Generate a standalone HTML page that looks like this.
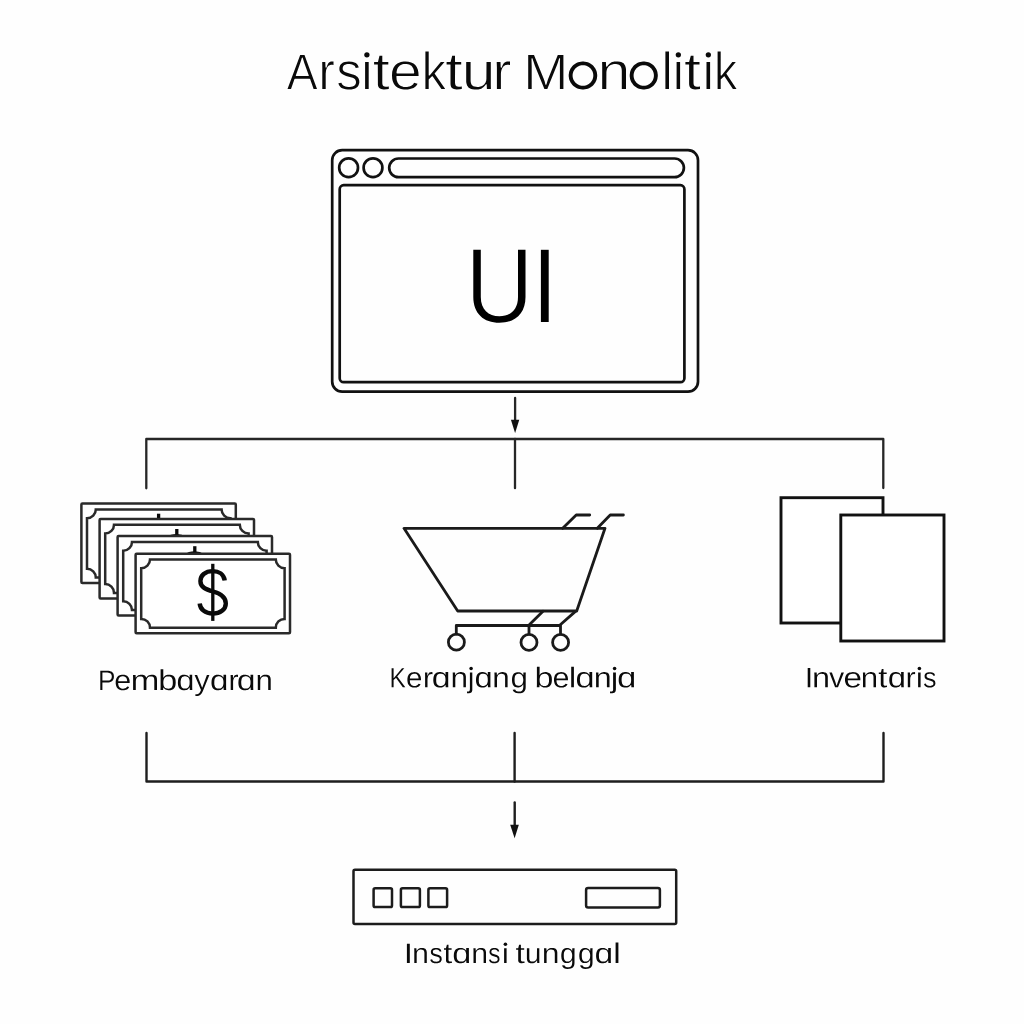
<!DOCTYPE html>
<html><head><meta charset="utf-8"><style>
html,body{margin:0;padding:0;background:#fefefe;width:1024px;height:1024px;overflow:hidden}
svg{display:block}
text{font-family:"Liberation Sans",sans-serif;fill:#111}
</style></head><body>
<svg width="1024" height="1024" viewBox="0 0 1024 1024">
<rect width="1024" height="1024" fill="#fefefe"/>
<defs><clipPath id="aclip"><rect x="-500" y="-500" width="3000" height="1600"/></clipPath></defs>
<!--TEXT-->
<path id="txt_title" fill="#0a0a0a" fill-rule="evenodd" d="M310.1,79.1 313.6,89.0 317.0,89.0 304.5,55.0 300.2,55.0 287.5,89.0 291.0,89.0 294.5,79.1 294.6,78.9 294.8,78.8 295.0,78.8 309.6,78.8 309.9,78.9ZM300.9,61.0 301.8,57.9 302.0,57.7 302.3,57.6 302.7,57.8 304.3,63.0 308.8,75.4 308.8,75.8 308.5,76.0 296.3,76.1 296.0,76.0 295.9,75.8 295.8,75.4 299.9,63.9ZM322.3,89.0 325.7,89.0 325.7,73.7 325.9,71.7 326.0,70.7 326.2,69.8 326.8,68.2 327.2,67.5 328.0,66.3 328.5,65.8 329.0,65.5 329.6,65.2 330.3,64.9 331.0,64.8 332.4,64.8 333.5,64.9 333.5,61.6 332.4,61.5 331.2,61.6 330.2,61.8 329.8,62.0 329.1,62.4 328.5,63.0 327.9,63.9 327.1,65.7 326.5,67.5 326.3,67.7 326.1,67.7 325.7,67.6 325.5,67.3 325.3,62.0 322.2,62.0 322.3,67.3ZM359.3,81.8 359.2,80.3 359.0,79.7 358.7,78.8 358.4,78.2 357.9,77.5 357.3,76.8 356.8,76.4 355.6,75.6 353.8,74.8 351.9,74.2 347.2,72.8 345.7,72.3 345.0,72.0 344.2,71.5 343.4,70.7 342.9,70.0 342.7,69.1 342.7,68.4 342.8,67.4 343.1,66.5 343.6,65.7 344.3,65.1 345.2,64.7 346.3,64.3 347.6,64.1 349.7,64.1 351.0,64.2 352.1,64.5 353.1,64.9 354.1,65.5 354.8,66.1 355.3,66.9 355.7,67.9 358.7,67.5 358.4,66.4 358.1,65.7 357.7,65.1 356.9,64.0 355.8,63.1 354.4,62.4 353.7,62.2 352.0,61.8 351.1,61.7 349.0,61.6 346.8,61.7 344.8,62.0 343.1,62.6 342.4,63.0 341.8,63.5 341.2,64.0 340.7,64.5 340.3,65.1 340.0,65.7 339.7,66.4 339.5,67.2 339.4,68.0 339.4,69.4 339.6,70.7 340.0,71.8 340.7,72.8 341.5,73.6 342.2,74.1 343.0,74.6 344.0,75.1 346.1,75.9 351.7,77.4 352.7,77.8 353.7,78.3 354.8,79.1 355.3,79.7 355.5,80.0 355.8,80.9 356.0,81.7 356.0,82.1 355.9,83.3 355.5,84.3 355.0,85.1 354.2,85.8 353.7,86.1 352.6,86.5 351.3,86.8 349.8,87.0 348.2,87.0 346.7,86.8 345.4,86.5 344.3,86.1 343.3,85.5 342.5,84.8 341.9,83.9 341.4,82.7 338.4,83.3 338.8,84.4 339.1,85.2 339.5,85.8 340.4,87.0 341.6,87.9 343.0,88.6 344.7,89.1 345.7,89.3 347.8,89.5 350.2,89.5 351.3,89.4 353.4,89.0 354.3,88.7 355.2,88.4 355.9,87.9 356.7,87.5 357.3,86.9 357.8,86.4 358.3,85.7 358.6,85.1 358.9,84.3 359.1,83.5 359.3,82.7ZM365.1,89.0 368.7,89.0 368.7,62.0 365.1,62.0ZM388.8,86.4 387.2,86.7 385.7,86.7 384.4,86.5 383.7,86.2 383.1,85.7 382.9,85.4 382.6,84.8 382.4,84.0 382.3,82.6 382.3,64.8 382.4,64.5 382.8,64.4 388.3,64.4 388.3,62.0 382.8,62.0 382.5,61.9 382.3,61.8 382.3,61.5 382.3,55.7 379.5,55.7 378.0,61.8 377.8,61.9 377.6,62.0 374.1,62.0 374.1,64.4 377.4,64.4 377.7,64.5 377.8,64.8 377.9,83.6 377.9,85.0 378.2,86.2 378.7,87.2 379.3,88.0 380.1,88.6 381.2,89.0 382.4,89.3 383.8,89.4 386.5,89.3 388.8,88.9ZM396.5,77.7 396.4,76.4 396.6,76.1 396.9,76.0 418.6,76.0 418.4,72.4 417.8,69.5 416.7,67.0 415.3,65.0 413.5,63.5 411.2,62.4 408.5,61.7 405.4,61.5 403.8,61.5 402.3,61.7 400.9,62.0 399.7,62.4 398.5,62.9 397.4,63.5 396.4,64.2 395.5,65.0 394.7,66.0 394.0,67.0 393.4,68.1 392.9,69.4 392.5,70.7 392.2,72.1 392.1,73.7 392.0,75.3 392.1,77.1 392.2,78.7 392.5,80.2 392.9,81.6 393.4,82.8 394.0,84.0 394.7,85.0 395.5,86.0 396.4,86.8 397.4,87.5 398.5,88.1 399.7,88.6 401.0,89.0 402.4,89.3 404.0,89.5 405.6,89.5 407.9,89.4 410.0,89.1 411.8,88.6 413.5,87.9 414.9,87.0 416.1,86.0 417.0,84.7 417.5,83.7 414.0,82.8 413.4,83.9 412.7,84.7 412.2,85.1 411.3,85.7 410.7,86.0 409.4,86.5 408.0,86.8 407.2,86.9 405.6,87.0 404.6,87.0 403.5,86.9 402.5,86.6 401.7,86.3 400.9,86.0 400.1,85.5 399.4,84.9 398.7,84.2 398.2,83.5 397.7,82.7 397.3,81.8 397.0,80.9 396.7,79.9ZM414.1,71.8 414.2,73.0 414.0,73.3 413.8,73.4 397.0,73.4 396.7,73.3 396.6,73.2 396.5,73.0 396.6,71.9 396.7,71.0 397.2,69.2 397.5,68.4 397.9,67.7 398.4,67.0 399.0,66.4 399.6,65.8 400.3,65.3 401.0,64.9 401.8,64.5 402.6,64.3 403.5,64.1 404.4,64.0 406.3,64.0 408.1,64.2 408.9,64.5 409.7,64.8 410.4,65.2 411.0,65.6 411.6,66.1 412.2,66.7 412.6,67.4 413.0,68.1 413.7,69.8ZM441.4,89.0 445.2,89.0 434.7,73.8 434.6,73.5 434.8,73.2 444.5,62.0 440.8,62.0 429.6,75.4 429.4,75.5 429.2,75.6 429.0,75.5 428.8,75.4 428.7,75.1 428.7,51.6 425.4,51.6 425.4,89.0 428.7,89.0 428.7,79.4 428.9,79.2 432.0,76.3 432.4,76.2 432.7,76.3 432.8,76.4ZM461.8,86.4 460.1,86.7 458.6,86.7 457.3,86.5 456.5,86.2 456.0,85.7 455.7,85.4 455.4,84.8 455.2,84.0 455.0,82.6 455.1,64.8 455.2,64.5 455.5,64.4 461.2,64.4 461.2,62.0 455.5,62.0 455.3,61.9 455.1,61.8 455.0,61.5 455.0,55.7 452.2,55.7 450.7,61.6 450.5,61.9 450.2,62.0 446.6,62.0 446.6,64.4 450.1,64.4 450.3,64.5 450.5,64.8 450.5,83.6 450.6,85.0 450.9,86.2 451.3,87.2 452.0,88.0 452.8,88.6 453.9,89.0 455.2,89.3 456.7,89.4 459.5,89.3 461.8,88.9ZM470.6,62.0 466.2,62.0 466.2,81.4 466.3,82.5 466.5,83.6 466.8,84.5 467.1,85.4 467.5,86.1 468.0,86.8 468.5,87.4 469.1,87.9 469.8,88.3 470.6,88.7 471.4,89.0 472.4,89.2 474.6,89.5 475.9,89.5 478.3,89.4 479.1,89.2 480.4,88.9 481.7,88.4 482.2,88.1 483.3,87.3 483.8,86.8 484.8,85.7 485.8,84.4 485.9,84.3 486.2,84.2 486.5,84.3 486.7,84.6 486.9,89.0 490.9,89.0 490.8,84.7 490.8,62.0 486.5,62.0 486.4,78.7 486.3,79.7 486.2,80.7 485.9,81.6 485.6,82.4 485.2,83.1 484.7,83.8 484.1,84.4 483.5,85.1 482.8,85.6 482.1,86.0 481.3,86.3 480.4,86.6 478.7,86.9 477.7,86.9 475.8,86.8 474.8,86.6 473.9,86.4 473.1,86.0 472.4,85.5 471.8,84.9 471.2,83.8 470.9,82.8 470.7,81.8 470.6,79.9ZM496.9,89.0 500.9,89.0 500.9,73.7 501.1,71.7 501.3,70.7 501.6,69.8 502.2,68.2 502.6,67.5 503.1,66.9 503.6,66.3 504.2,65.8 504.9,65.4 505.5,65.1 506.3,64.9 507.0,64.8 508.6,64.8 510.0,64.9 510.0,61.6 508.7,61.5 507.2,61.6 506.1,61.8 505.6,62.0 504.7,62.4 504.0,63.0 503.3,63.9 502.7,65.1 502.4,65.8 501.7,67.5 501.5,67.7 501.3,67.7 500.9,67.6 500.7,67.3 500.5,62.0 496.7,62.0 496.9,67.3ZM559.9,89.0 563.4,89.0 563.4,55.0 557.8,55.0 548.0,79.3 547.0,82.4 546.4,84.5 546.2,84.8 545.9,84.8 545.6,84.8 545.4,84.5 544.7,81.6 543.8,78.9 534.0,55.0 528.2,55.0 528.2,89.0 531.7,89.0 531.7,66.2 531.5,58.7 531.6,58.4 532.0,58.2 532.3,58.3 532.5,58.5 533.4,61.3 534.8,65.5 544.4,89.0 547.3,89.0 557.1,64.8 557.9,62.5 559.1,58.5 559.4,58.3 559.5,58.2 559.8,58.3 560.0,58.4 560.1,58.7 559.9,61.4 559.9,65.2ZM597.2,74.8 597.0,73.4 596.8,72.1 596.4,70.8 595.8,69.5 595.2,68.3 594.4,67.2 593.5,66.1 592.5,65.1 591.4,64.3 590.3,63.5 589.0,62.8 587.8,62.3 586.4,61.9 585.0,61.7 583.6,61.5 582.3,61.5 580.9,61.7 579.5,61.9 578.1,62.3 576.9,62.8 575.6,63.5 574.5,64.3 573.4,65.1 572.4,66.1 571.5,67.2 570.7,68.3 570.1,69.5 569.5,70.8 569.1,72.1 568.9,73.4 568.7,74.8 568.7,76.2 568.9,77.6 569.1,78.9 569.5,80.2 570.1,81.5 570.7,82.7 571.5,83.8 572.4,84.9 573.4,85.9 574.5,86.7 575.6,87.5 576.9,88.2 578.1,88.7 579.5,89.1 580.9,89.3 582.3,89.5 583.6,89.5 585.0,89.3 586.4,89.1 587.8,88.7 589.0,88.2 590.3,87.5 591.4,86.7 592.5,85.9 593.5,84.9 594.4,83.8 595.2,82.7 595.8,81.5 596.4,80.2 596.8,78.9 597.0,77.6 597.2,76.2ZM593.3,76.0 593.2,77.0 593.0,78.0 592.7,79.0 592.3,79.9 591.8,80.8 591.3,81.6 590.6,82.4 589.9,83.1 589.1,83.8 588.3,84.3 587.4,84.8 586.4,85.2 585.5,85.5 584.5,85.7 583.5,85.8 582.4,85.8 581.4,85.7 580.4,85.5 579.5,85.2 578.5,84.8 577.6,84.3 576.8,83.8 576.0,83.1 575.3,82.4 574.6,81.6 574.1,80.8 573.6,79.9 573.2,79.0 572.9,78.0 572.7,77.0 572.6,76.0 572.6,75.0 572.7,74.0 572.9,73.0 573.2,72.0 573.6,71.1 574.1,70.2 574.6,69.4 575.3,68.6 576.0,67.9 576.8,67.2 577.6,66.7 578.5,66.2 579.5,65.8 580.4,65.5 581.4,65.3 582.4,65.2 583.5,65.2 584.5,65.3 585.5,65.5 586.4,65.8 587.4,66.2 588.3,66.7 589.1,67.2 589.9,67.9 590.6,68.6 591.3,69.4 591.8,70.2 592.3,71.1 592.7,72.0 593.0,73.0 593.2,74.0 593.3,75.0ZM602.1,62.0 602.2,66.3 602.2,89.0 606.3,89.0 606.4,72.3 606.5,71.3 606.7,70.3 606.9,69.4 607.2,68.6 607.6,67.9 608.1,67.2 608.6,66.6 609.3,65.9 609.9,65.4 610.6,65.0 611.4,64.7 612.2,64.4 613.9,64.1 614.9,64.1 616.1,64.1 617.2,64.3 618.2,64.5 619.0,64.8 619.7,65.2 620.0,65.5 620.6,66.2 621.0,66.9 621.3,67.7 621.6,68.7 621.7,69.8 621.8,71.1 621.8,89.0 626.0,89.0 626.0,69.6 625.9,68.5 625.7,67.4 625.4,66.5 625.1,65.6 624.7,64.9 624.3,64.2 623.8,63.6 623.2,63.1 622.5,62.7 621.8,62.3 620.9,62.0 620.0,61.8 617.8,61.5 616.6,61.5 614.3,61.6 613.6,61.8 612.2,62.1 611.1,62.6 610.5,62.9 609.5,63.7 608.5,64.7 608.0,65.3 607.1,66.6 606.8,66.8 606.5,66.8 606.3,66.6 606.1,66.3 605.9,62.0ZM657.8,74.8 657.6,73.4 657.4,72.1 657.0,70.8 656.5,69.5 655.8,68.3 655.0,67.2 654.2,66.1 653.2,65.1 652.1,64.3 651.0,63.5 649.8,62.8 648.5,62.3 647.2,61.9 645.8,61.7 644.4,61.5 643.1,61.5 641.7,61.7 640.3,61.9 639.0,62.3 637.7,62.8 636.5,63.5 635.4,64.3 634.3,65.1 633.3,66.1 632.5,67.2 631.7,68.3 631.0,69.5 630.5,70.8 630.1,72.1 629.9,73.4 629.7,74.8 629.7,76.2 629.9,77.6 630.1,78.9 630.5,80.2 631.0,81.5 631.7,82.7 632.5,83.8 633.3,84.9 634.3,85.9 635.4,86.7 636.5,87.5 637.7,88.2 639.0,88.7 640.3,89.1 641.7,89.3 643.1,89.5 644.4,89.5 645.8,89.3 647.2,89.1 648.5,88.7 649.8,88.2 651.0,87.5 652.1,86.7 653.2,85.9 654.2,84.9 655.0,83.8 655.8,82.7 656.5,81.5 657.0,80.2 657.4,78.9 657.6,77.6 657.8,76.2ZM653.9,76.0 653.8,77.0 653.6,78.0 653.3,79.0 652.9,79.9 652.5,80.8 651.9,81.6 651.3,82.4 650.6,83.1 649.8,83.8 649.0,84.3 648.1,84.8 647.2,85.2 646.2,85.5 645.2,85.7 644.2,85.8 643.3,85.8 642.3,85.7 641.3,85.5 640.3,85.2 639.4,84.8 638.5,84.3 637.7,83.8 636.9,83.1 636.2,82.4 635.6,81.6 635.0,80.8 634.6,79.9 634.2,79.0 633.9,78.0 633.7,77.0 633.6,76.0 633.6,75.0 633.7,74.0 633.9,73.0 634.2,72.0 634.6,71.1 635.0,70.2 635.6,69.4 636.2,68.6 636.9,67.9 637.7,67.2 638.5,66.7 639.4,66.2 640.3,65.8 641.3,65.5 642.3,65.3 643.3,65.2 644.2,65.2 645.2,65.3 646.2,65.5 647.2,65.8 648.1,66.2 649.0,66.7 649.8,67.2 650.6,67.9 651.3,68.6 651.9,69.4 652.5,70.2 652.9,71.1 653.3,72.0 653.6,73.0 653.8,74.0 653.9,75.0ZM665.4,89.0 669.0,89.0 669.0,51.6 665.4,51.6ZM676.6,89.0 680.1,89.0 680.1,62.0 676.6,62.0ZM700.0,86.4 698.4,86.7 696.9,86.7 695.7,86.5 694.9,86.2 694.4,85.7 694.1,85.4 693.8,84.8 693.6,84.0 693.5,82.6 693.5,64.8 693.7,64.5 694.0,64.4 699.5,64.4 699.5,62.0 694.0,62.0 693.7,61.9 693.5,61.7 693.5,61.5 693.5,55.7 690.8,55.7 689.2,61.8 689.0,62.0 688.8,62.0 685.4,62.0 685.4,64.4 688.7,64.4 689.0,64.5 689.1,64.8 689.1,83.6 689.2,85.0 689.5,86.2 690.0,87.2 690.6,88.0 691.4,88.6 692.4,89.0 693.6,89.3 695.1,89.4 697.8,89.3 700.0,88.9ZM706.5,89.0 710.1,89.0 710.1,62.0 706.5,62.0ZM732.9,89.0 736.5,89.0 726.4,73.8 726.4,73.5 726.5,73.2 735.8,62.0 732.3,62.0 721.6,75.4 721.4,75.6 721.0,75.5 720.8,75.4 720.7,75.1 720.7,51.6 717.6,51.6 717.6,89.0 720.7,89.0 720.7,79.4 720.9,79.2 723.9,76.4 724.2,76.2 724.4,76.3 724.6,76.4Z"/>
<circle cx="366.90" cy="54.85" r="2.65" fill="#0a0a0a"/>
<circle cx="678.35" cy="54.85" r="2.65" fill="#0a0a0a"/>
<circle cx="708.35" cy="54.85" r="2.65" fill="#0a0a0a"/>
<path id="txt_pay" fill="#0a0a0a" fill-rule="evenodd" d="M113.9,677.2 113.9,675.9 113.8,675.2 113.7,674.6 113.3,673.6 113.0,673.1 112.3,672.3 111.4,671.6 110.9,671.4 109.8,671.0 108.4,670.8 100.3,670.8 100.3,690.0 102.4,690.0 102.4,682.6 102.5,682.4 102.6,682.4 108.5,682.4 109.8,682.2 110.9,681.8 111.9,681.2 112.7,680.4 113.0,679.9 113.5,678.9 113.7,678.4ZM111.7,675.6 111.8,676.6 111.7,677.5 111.5,678.3 111.2,679.0 110.7,679.6 110.1,680.0 109.3,680.4 108.5,680.6 107.5,680.6 102.6,680.6 102.4,680.5 102.4,672.8 102.5,672.6 107.4,672.6 108.4,672.7 109.3,672.9 110.0,673.2 110.6,673.6 111.1,674.1 111.5,674.9ZM118.2,683.7 118.2,683.0 118.4,682.9 129.7,682.9 129.6,680.8 129.3,679.2 128.7,677.8 128.0,676.7 127.0,675.8 125.8,675.2 124.4,674.8 122.7,674.7 121.9,674.7 120.4,675.0 119.7,675.2 118.5,675.8 117.5,676.7 117.1,677.2 116.4,678.4 116.2,679.1 115.8,680.6 115.7,681.5 115.7,683.4 115.8,684.3 116.2,685.9 116.7,687.2 117.1,687.8 117.5,688.3 118.0,688.8 119.1,689.5 119.8,689.8 121.2,690.2 122.0,690.3 122.9,690.3 124.1,690.2 125.2,690.1 126.1,689.8 127.0,689.4 127.7,688.9 128.4,688.3 128.9,687.6 129.2,686.9 127.2,686.4 126.8,687.0 126.4,687.4 125.7,688.0 125.1,688.3 124.1,688.6 123.3,688.7 122.3,688.7 121.3,688.5 120.9,688.3 120.1,687.8 119.7,687.5 119.1,686.8 118.9,686.4 118.5,685.4 118.4,684.9ZM126.9,679.4 127.2,681.1 127.2,681.2 127.1,681.2 118.4,681.2 118.2,681.1 118.4,680.0 118.6,679.1 119.0,678.3 119.5,677.6 120.1,677.0 120.5,676.8 121.3,676.5 122.2,676.3 123.2,676.3 124.1,676.5 124.9,676.8 125.6,677.2 126.2,677.8 126.6,678.5ZM135.6,675.0 133.0,675.0 133.1,677.5 133.1,690.0 135.8,690.0 135.8,681.3 135.9,680.2 136.1,679.2 136.3,678.8 136.7,678.0 137.0,677.7 137.6,677.1 138.0,676.9 138.8,676.6 139.3,676.5 140.2,676.4 141.5,676.5 142.2,676.7 142.5,676.9 142.9,677.3 143.1,677.5 143.3,677.8 143.5,678.5 143.7,679.4 143.7,680.4 143.7,690.0 146.4,690.0 146.4,681.3 146.5,680.2 146.7,679.2 147.1,678.4 147.3,678.0 147.9,677.4 148.2,677.1 148.9,676.7 149.4,676.6 150.3,676.4 150.8,676.4 152.1,676.5 152.8,676.7 153.1,676.9 153.5,677.3 153.7,677.5 153.9,677.8 154.1,678.5 154.2,679.4 154.3,680.4 154.3,690.0 157.0,690.0 157.0,680.0 156.9,678.6 156.8,678.1 156.5,677.1 156.1,676.3 155.5,675.7 154.7,675.2 154.2,675.0 153.1,674.8 151.4,674.7 150.1,674.9 149.0,675.2 148.0,675.8 147.2,676.5 146.4,677.6 146.2,677.6 146.1,677.5 145.8,676.8 145.3,676.0 144.8,675.6 144.2,675.2 143.5,675.0 142.7,674.8 141.8,674.7 140.4,674.8 139.6,674.9 138.9,675.1 137.9,675.5 137.1,676.2 136.5,676.8 136.0,677.6 135.9,677.6 135.8,677.6 135.7,677.5ZM163.1,690.0 163.3,687.7 163.4,687.6 163.6,687.7 164.3,688.6 165.1,689.3 166.1,689.8 167.3,690.1 168.2,690.2 169.1,690.3 170.7,690.2 172.0,689.8 173.1,689.2 174.1,688.3 174.8,687.2 175.3,685.9 175.6,684.3 175.7,682.4 175.6,680.6 175.5,679.8 175.1,678.3 174.8,677.7 174.1,676.6 173.7,676.2 173.2,675.8 172.7,675.5 171.4,675.0 170.0,674.7 169.2,674.7 167.7,674.8 166.5,675.1 165.4,675.5 164.8,675.9 164.1,676.7 163.6,677.4 163.3,677.4 163.3,677.3 163.3,675.4 163.3,669.3 160.6,669.3 160.6,687.6 160.5,690.0ZM172.8,681.7 172.8,684.0 172.6,685.3 172.4,685.9 172.0,686.8 171.8,687.2 171.2,687.9 170.8,688.1 169.9,688.5 169.4,688.6 168.3,688.7 167.1,688.6 166.1,688.3 165.2,687.9 164.8,687.6 164.2,686.8 163.8,685.9 163.6,685.3 163.4,684.1 163.3,681.9 163.5,680.5 163.8,679.3 164.3,678.3 164.9,677.6 165.6,677.0 166.6,676.6 167.2,676.5 168.4,676.4 168.9,676.4 169.9,676.6 170.8,676.9 171.5,677.5 171.8,677.8 172.2,678.7 172.6,679.7ZM188.9,688.3 189.4,687.6 189.5,687.5 189.7,687.6 189.8,690.0 192.3,690.0 192.2,687.6 192.2,674.7 189.6,674.7 189.7,677.2 189.6,677.3 189.5,677.4 189.4,677.3 188.7,676.4 187.9,675.7 187.0,675.2 185.9,674.9 184.9,674.7 183.8,674.7 182.6,674.8 181.4,675.2 180.3,675.8 179.5,676.7 178.8,677.8 178.3,679.1 178.0,680.7 177.9,682.6 177.9,683.5 178.1,685.2 178.5,686.7 179.1,687.9 179.8,688.8 180.8,689.5 181.9,690.0 183.3,690.3 185.0,690.2 185.9,690.1 186.6,689.9 187.3,689.7 187.9,689.3 188.4,688.8ZM180.7,684.0 180.6,681.7 180.9,679.7 181.2,678.6 181.4,678.2 181.9,677.4 182.2,677.1 182.9,676.7 183.8,676.4 184.3,676.3 185.5,676.3 186.5,676.5 187.4,676.9 187.8,677.1 188.5,677.8 189.0,678.6 189.4,679.7 189.6,680.9 189.6,683.1 189.5,684.5 189.4,685.1 189.0,686.2 188.5,687.0 187.8,687.7 187.0,688.2 186.5,688.4 185.4,688.6 184.3,688.6 183.4,688.4 182.9,688.3 182.2,687.8 181.9,687.5 181.4,686.8 181.0,685.8ZM195.4,694.3 195.4,695.9 196.6,696.0 197.8,696.0 198.7,695.8 199.7,695.3 200.7,694.5 201.4,693.7 202.3,692.2 203.0,690.7 209.4,675.0 206.9,675.0 203.4,684.6 202.3,687.4 202.2,687.5 202.0,687.4 200.5,683.4 197.1,675.0 194.6,675.0 201.0,690.1 200.3,691.6 199.9,692.3 199.4,692.9 198.9,693.4 198.4,693.8 197.8,694.1 197.2,694.3 196.5,694.3ZM222.8,688.3 223.2,687.6 223.3,687.5 223.5,687.6 223.7,690.0 226.2,690.0 226.1,687.6 226.1,674.7 223.5,674.7 223.5,677.2 223.5,677.3 223.4,677.4 223.2,677.3 222.5,676.4 221.7,675.7 220.8,675.2 219.6,674.9 218.6,674.7 217.5,674.7 216.3,674.8 215.1,675.2 214.0,675.8 213.1,676.7 212.4,677.8 211.9,679.1 211.6,680.7 211.5,682.6 211.5,683.5 211.7,685.2 212.1,686.7 212.7,687.9 213.4,688.8 214.4,689.5 215.6,690.0 217.0,690.3 218.8,690.2 219.6,690.1 220.4,689.9 221.1,689.7 221.7,689.3 222.3,688.8ZM214.3,684.0 214.3,681.7 214.5,679.7 214.8,678.6 215.1,678.2 215.6,677.4 215.9,677.1 216.7,676.7 217.5,676.4 218.1,676.3 219.2,676.3 220.3,676.5 221.2,676.9 222.0,677.4 222.3,677.8 222.8,678.6 223.2,679.7 223.4,680.9 223.5,683.1 223.3,684.5 223.2,685.1 222.8,686.2 222.3,687.1 221.6,687.7 220.8,688.2 220.3,688.4 219.2,688.6 218.0,688.6 217.1,688.4 216.6,688.3 215.9,687.8 215.6,687.5 215.0,686.8 214.7,685.8 214.4,684.7ZM230.7,690.0 233.1,690.0 233.1,681.5 233.3,679.9 233.8,678.6 234.0,678.2 234.5,677.6 234.8,677.3 235.5,677.0 235.9,676.8 236.7,676.8 238.0,676.9 238.0,674.8 237.2,674.7 236.3,674.8 235.7,674.9 235.0,675.2 234.6,675.6 234.2,676.1 233.7,677.1 233.3,678.1 233.2,678.1 233.0,678.1 233.0,678.0 232.9,675.0 230.6,675.0 230.7,678.0ZM249.8,688.3 250.3,687.6 250.4,687.5 250.6,687.6 250.7,690.0 253.3,690.0 253.2,687.6 253.2,674.7 250.5,674.7 250.6,677.2 250.5,677.3 250.4,677.4 250.3,677.3 249.6,676.4 248.8,675.7 247.8,675.2 246.7,674.9 245.6,674.7 244.5,674.7 243.3,674.8 242.0,675.2 240.9,675.8 240.0,676.7 239.3,677.8 238.8,679.1 238.5,680.7 238.4,682.6 238.4,683.5 238.6,685.2 239.0,686.7 239.6,687.9 240.4,688.8 241.4,689.5 242.6,690.0 244.0,690.3 245.8,690.2 246.6,690.1 247.4,689.9 248.1,689.7 248.8,689.3 249.3,688.8ZM241.3,684.0 241.2,681.7 241.5,679.7 241.8,678.6 242.0,678.2 242.5,677.4 242.9,677.1 243.6,676.7 244.5,676.4 245.1,676.3 246.2,676.3 247.3,676.5 248.3,676.9 249.0,677.4 249.4,677.8 249.9,678.6 250.2,679.7 250.5,680.9 250.5,683.1 250.4,684.5 250.2,685.1 249.9,686.2 249.4,687.1 248.7,687.7 247.8,688.2 247.3,688.4 246.2,688.6 245.0,688.6 244.0,688.4 243.6,688.3 242.8,687.8 242.5,687.5 242.0,686.8 241.6,685.8 241.4,684.7ZM260.0,675.0 257.7,675.0 257.8,677.5 257.8,690.0 260.2,690.0 260.3,680.7 260.4,679.7 260.7,678.8 260.9,678.4 261.4,677.7 262.1,677.1 262.4,676.9 263.3,676.6 264.2,676.4 264.7,676.4 265.9,676.5 266.8,676.8 267.3,677.1 267.8,677.8 268.1,678.8 268.2,680.1 268.2,690.0 270.7,690.0 270.7,679.3 270.6,678.6 270.4,677.5 270.2,677.0 269.8,676.2 269.2,675.6 268.4,675.2 267.9,675.0 266.9,674.8 266.3,674.7 265.2,674.7 264.3,674.8 263.2,675.1 262.3,675.5 261.4,676.2 260.9,676.8 260.4,677.6 260.2,677.6 260.1,677.5Z"/>
<path id="txt_cart" fill="#0a0a0a" fill-rule="evenodd" d="M402.8,687.3 405.3,687.3 397.3,676.6 397.2,676.5 404.3,668.3 402.0,668.3 393.9,677.9 393.8,678.0 393.6,677.9 393.6,677.8 393.6,668.3 391.6,668.3 391.6,687.3 393.6,687.3 393.6,680.0 395.9,678.0 396.1,678.0ZM409.9,681.0 409.8,680.4 410.0,680.2 421.0,680.2 420.9,678.2 420.6,676.6 420.0,675.2 419.3,674.1 418.4,673.2 417.2,672.6 415.8,672.2 414.2,672.1 413.4,672.2 412.0,672.4 411.3,672.6 410.2,673.2 409.2,674.1 408.8,674.6 408.1,675.8 407.8,676.5 407.5,678.0 407.4,678.8 407.4,680.7 407.5,681.6 407.8,683.2 408.4,684.5 408.8,685.1 409.6,686.1 410.7,686.8 411.3,687.1 412.7,687.5 413.5,687.5 414.4,687.6 415.5,687.5 416.6,687.4 417.5,687.1 418.4,686.7 419.1,686.2 419.7,685.6 420.2,684.9 420.5,684.2 418.5,683.7 418.2,684.3 417.8,684.7 417.1,685.3 416.6,685.6 415.6,685.9 414.8,686.0 413.8,686.0 412.9,685.8 412.4,685.6 411.6,685.2 411.3,684.8 410.7,684.1 410.5,683.7 410.1,682.7 410.0,682.2ZM418.3,676.8 418.6,678.5 418.6,678.6 418.5,678.6 410.0,678.6 409.9,678.5 410.0,677.4 410.2,676.5 410.6,675.7 411.1,675.0 411.7,674.4 412.1,674.2 412.9,673.9 413.7,673.7 414.7,673.7 415.6,673.8 416.4,674.1 417.0,674.6 417.6,675.2 418.0,675.9ZM425.1,687.3 427.5,687.3 427.5,678.9 427.7,677.8 427.9,676.8 428.2,675.9 428.7,675.2 429.0,674.9 429.6,674.5 430.0,674.3 430.8,674.2 431.6,674.1 432.5,674.2 432.5,672.2 431.7,672.1 430.8,672.2 430.2,672.3 429.4,672.6 429.0,673.0 428.6,673.5 428.1,674.5 427.8,675.4 427.6,675.5 427.5,675.5 427.4,675.4 427.3,672.4 425.0,672.4 425.1,675.4ZM444.8,685.6 445.3,684.9 445.4,684.9 445.5,684.9 445.7,687.3 448.3,687.3 448.2,684.9 448.2,672.1 445.5,672.1 445.5,674.6 445.5,674.7 445.4,674.8 445.3,674.7 444.6,673.8 443.7,673.1 442.8,672.6 441.6,672.3 440.6,672.1 439.4,672.1 438.2,672.2 436.9,672.6 435.8,673.2 434.9,674.1 434.2,675.1 433.7,676.5 433.4,678.1 433.3,679.9 433.3,680.9 433.5,682.6 433.9,684.0 434.5,685.2 435.3,686.1 436.3,686.8 437.5,687.3 439.0,687.6 440.7,687.5 441.6,687.4 442.4,687.2 443.1,687.0 443.7,686.6 444.3,686.2ZM436.2,681.3 436.2,679.1 436.4,677.1 436.7,676.0 436.9,675.6 437.4,674.8 437.8,674.5 438.6,674.0 439.5,673.8 440.0,673.7 441.2,673.7 442.3,673.9 443.2,674.2 444.0,674.8 444.3,675.2 444.9,676.0 445.2,677.0 445.4,678.2 445.5,680.4 445.3,681.8 445.2,682.4 444.9,683.5 444.3,684.4 443.7,685.1 442.8,685.5 442.3,685.7 441.2,685.9 440.0,685.9 439.0,685.7 438.5,685.6 437.8,685.1 437.5,684.8 436.9,684.1 436.5,683.2 436.3,682.0ZM455.1,672.4 452.7,672.4 452.8,674.9 452.8,687.3 455.3,687.3 455.3,678.1 455.5,677.1 455.8,676.2 456.0,675.8 456.5,675.1 457.1,674.5 457.5,674.3 458.4,674.0 459.3,673.8 459.8,673.8 461.0,673.9 461.9,674.2 462.5,674.5 463.0,675.2 463.3,676.2 463.4,677.4 463.4,687.3 465.9,687.3 465.9,676.6 465.8,676.0 465.6,674.9 465.4,674.4 465.0,673.6 464.3,673.0 463.5,672.6 463.1,672.4 462.0,672.2 461.4,672.1 460.3,672.1 459.4,672.2 458.3,672.5 457.4,672.9 456.5,673.6 456.0,674.2 455.5,675.0 455.3,675.0 455.2,674.9ZM472.3,689.3 472.3,672.4 469.9,672.4 469.9,689.0 469.8,689.9 469.7,690.4 469.5,690.8 469.1,691.3 468.7,691.4 468.3,691.5 467.8,691.6 467.0,691.5 467.0,693.2 468.0,693.3 469.2,693.3 470.0,693.1 471.0,692.7 471.5,692.3 471.7,692.1 472.0,691.5 472.3,690.3ZM487.1,685.6 487.6,684.9 487.7,684.9 487.8,684.9 488.0,687.3 490.5,687.3 490.4,684.9 490.4,672.1 487.8,672.1 487.8,674.6 487.8,674.7 487.7,674.8 487.6,674.7 486.9,673.8 486.1,673.1 485.1,672.6 484.0,672.3 483.0,672.1 481.9,672.1 480.8,672.2 479.5,672.6 478.4,673.2 477.6,674.1 476.9,675.1 476.4,676.5 476.1,678.1 476.0,679.9 476.0,680.9 476.2,682.6 476.6,684.0 477.2,685.2 477.9,686.1 478.9,686.8 480.1,687.3 481.5,687.6 483.2,687.5 484.0,687.4 484.8,687.2 485.5,687.0 486.1,686.6 486.6,686.2ZM478.8,681.3 478.8,679.1 479.0,677.1 479.3,676.0 479.5,675.6 480.0,674.8 480.3,674.5 481.1,674.0 482.0,673.8 482.5,673.7 483.6,673.7 484.7,673.9 485.6,674.3 486.4,674.8 486.7,675.2 487.2,676.0 487.5,677.0 487.7,678.2 487.8,680.4 487.7,681.8 487.5,682.4 487.2,683.5 486.7,684.4 486.0,685.1 485.2,685.5 484.7,685.7 483.6,685.9 482.4,685.9 481.5,685.7 481.0,685.6 480.3,685.1 480.0,684.8 479.5,684.1 479.1,683.2 478.9,682.0ZM496.8,672.4 494.4,672.4 494.5,674.9 494.5,687.3 497.0,687.3 497.0,678.1 497.2,677.1 497.5,676.2 497.7,675.8 498.2,675.1 498.8,674.5 499.2,674.3 500.1,674.0 501.0,673.8 501.5,673.8 502.7,673.9 503.6,674.2 504.2,674.5 504.7,675.2 505.0,676.2 505.1,677.4 505.1,687.3 507.6,687.3 507.6,676.6 507.5,676.0 507.3,674.9 507.1,674.4 506.7,673.6 506.0,673.0 505.2,672.6 504.8,672.4 503.7,672.2 503.1,672.1 502.0,672.1 501.1,672.2 500.0,672.5 499.1,672.9 498.2,673.6 497.7,674.2 497.2,675.0 497.0,675.0 496.9,674.9ZM518.3,693.3 520.5,693.2 521.9,692.9 523.1,692.4 524.0,691.7 524.8,690.8 525.3,689.8 525.6,688.5 525.7,687.0 525.7,674.8 525.8,672.4 523.4,672.4 523.3,674.9 523.1,675.0 523.0,674.9 522.6,674.3 521.9,673.5 521.0,672.9 520.4,672.6 519.3,672.3 518.5,672.2 517.3,672.2 516.0,672.4 514.8,672.9 513.9,673.6 513.2,674.5 512.6,675.7 512.2,677.2 512.0,678.9 512.0,680.8 512.2,682.5 512.4,683.3 512.8,684.6 513.4,685.6 514.2,686.4 515.2,687.0 516.4,687.3 517.8,687.4 518.6,687.4 519.4,687.2 520.5,686.9 521.2,686.5 521.8,686.1 522.3,685.5 523.0,684.5 523.1,684.5 523.3,684.6 523.3,687.1 523.2,688.1 523.0,689.0 522.7,689.8 522.2,690.5 521.6,691.0 520.8,691.4 520.0,691.6 519.0,691.6 517.9,691.6 517.0,691.3 516.2,690.9 515.6,690.3 515.4,689.9 515.2,689.5 512.7,689.8 513.0,690.5 513.4,691.2 514.0,691.8 514.7,692.3 515.5,692.7 516.5,693.0ZM523.3,679.4 523.2,681.2 523.0,682.0 522.8,682.7 522.6,683.4 522.0,684.2 521.6,684.7 521.1,685.1 520.3,685.6 519.7,685.7 519.0,685.8 518.1,685.8 517.2,685.6 516.4,685.3 516.0,685.0 515.5,684.4 515.1,683.6 514.9,683.1 514.7,682.0 514.6,680.6 514.6,678.4 514.9,676.6 515.3,675.6 515.8,674.9 516.5,674.3 517.3,673.9 518.2,673.8 518.7,673.7 519.4,673.8 520.0,673.9 520.6,674.2 521.1,674.5 521.6,674.9 522.0,675.4 522.4,675.9 522.7,676.6 523.0,677.7ZM539.4,687.3 539.6,685.1 539.7,684.9 539.9,685.0 540.6,685.9 541.4,686.6 542.4,687.1 543.5,687.4 544.4,687.5 545.4,687.6 546.9,687.5 548.3,687.1 549.4,686.5 550.3,685.6 551.0,684.6 551.5,683.2 551.8,681.6 551.9,679.8 551.8,678.0 551.7,677.1 551.3,675.7 551.0,675.1 550.3,674.0 549.9,673.6 549.4,673.2 548.9,672.9 547.7,672.4 546.2,672.1 545.4,672.1 544.0,672.2 542.8,672.5 541.7,672.9 541.1,673.3 540.3,674.1 539.9,674.8 539.6,674.8 539.5,674.7 539.6,672.8 539.6,666.8 536.9,666.8 536.9,684.9 536.8,687.3ZM549.0,679.1 549.0,681.4 548.8,682.6 548.6,683.2 548.3,684.1 548.0,684.5 547.4,685.2 547.0,685.4 546.2,685.8 545.7,685.9 544.6,686.0 543.4,685.9 542.3,685.6 541.5,685.2 541.1,684.9 540.5,684.1 540.1,683.2 539.9,682.7 539.7,681.4 539.6,679.2 539.8,677.9 540.1,676.7 540.5,675.7 541.1,674.9 541.9,674.4 542.9,674.0 543.4,673.9 544.6,673.8 545.2,673.8 546.2,674.0 547.0,674.3 547.7,674.9 548.0,675.2 548.5,676.0 548.8,677.1ZM556.5,681.0 556.5,680.4 556.7,680.2 568.0,680.2 567.9,678.2 567.6,676.6 567.0,675.2 566.3,674.1 565.3,673.2 564.1,672.6 562.7,672.2 561.0,672.1 560.2,672.2 558.7,672.4 558.0,672.6 556.8,673.2 555.8,674.1 555.4,674.6 554.7,675.8 554.5,676.5 554.1,678.0 554.0,678.8 554.0,680.7 554.1,681.6 554.5,683.2 555.0,684.5 555.4,685.1 555.8,685.6 556.3,686.1 557.4,686.8 558.1,687.1 559.5,687.5 560.3,687.5 561.2,687.6 562.4,687.5 563.5,687.4 564.4,687.1 565.3,686.7 566.0,686.2 566.7,685.6 567.2,684.9 567.5,684.2 565.5,683.7 565.1,684.3 564.7,684.7 564.0,685.3 563.4,685.6 562.4,685.9 561.6,686.0 560.6,686.0 559.6,685.8 559.2,685.6 558.4,685.2 558.0,684.8 557.4,684.1 557.2,683.7 556.8,682.7 556.7,682.2ZM565.2,676.8 565.5,678.5 565.5,678.6 565.4,678.6 556.7,678.6 556.5,678.5 556.7,677.4 556.9,676.5 557.3,675.7 557.8,675.0 558.4,674.4 558.8,674.2 559.6,673.9 560.5,673.7 561.5,673.7 562.4,673.8 563.2,674.1 563.9,674.6 564.5,675.2 564.9,675.9ZM571.2,687.3 573.9,687.3 573.9,666.8 571.2,666.8ZM588.7,685.6 589.2,684.9 589.3,684.9 589.5,684.9 589.7,687.3 592.3,687.3 592.2,684.9 592.2,672.1 589.4,672.1 589.5,674.6 589.4,674.7 589.3,674.8 589.2,674.7 588.5,673.8 587.6,673.1 586.7,672.6 585.5,672.3 584.4,672.1 583.2,672.1 582.0,672.2 580.7,672.6 579.6,673.2 578.7,674.1 577.9,675.1 577.4,676.5 577.1,678.1 577.0,679.9 577.0,680.9 577.2,682.6 577.6,684.0 578.2,685.2 579.0,686.1 579.5,686.5 580.0,686.8 581.3,687.3 582.8,687.6 584.6,687.5 585.5,687.4 586.3,687.2 587.0,687.0 587.6,686.6 588.2,686.1ZM580.0,681.3 579.9,679.8 580.0,678.3 580.0,677.7 580.3,676.5 580.5,676.0 580.9,675.2 581.3,674.8 581.9,674.3 582.4,674.0 583.3,673.8 584.4,673.7 585.6,673.8 586.7,674.0 587.5,674.5 587.9,674.8 588.5,675.5 589.0,676.5 589.3,677.6 589.4,678.9 589.4,681.1 589.2,682.4 588.8,683.5 588.2,684.4 587.5,685.1 587.1,685.3 586.2,685.7 585.0,685.9 584.4,685.9 583.3,685.8 582.8,685.7 581.9,685.4 581.2,684.8 580.7,684.1 580.5,683.7 580.2,682.6ZM598.4,672.4 596.0,672.4 596.1,674.9 596.1,687.3 598.7,687.3 598.7,678.1 598.8,677.1 599.1,676.2 599.3,675.8 599.9,675.1 600.5,674.5 600.9,674.3 601.8,674.0 602.7,673.8 603.2,673.8 604.5,673.9 605.4,674.1 606.0,674.5 606.5,675.2 606.8,676.2 606.9,677.4 606.9,687.3 609.5,687.3 609.5,676.6 609.4,676.0 609.2,674.9 609.0,674.4 608.5,673.6 607.9,673.0 607.1,672.6 606.6,672.4 605.5,672.2 604.9,672.1 603.7,672.1 602.9,672.2 601.7,672.5 600.8,672.9 599.9,673.6 599.3,674.2 598.8,675.0 598.6,675.0 598.5,674.9ZM615.9,689.3 615.9,672.4 613.1,672.4 613.1,689.0 613.1,689.9 612.9,690.4 612.8,690.9 612.3,691.3 611.9,691.4 611.4,691.5 610.9,691.6 610.0,691.5 610.0,693.2 611.1,693.3 612.5,693.3 613.3,693.1 614.4,692.7 614.9,692.3 615.1,692.1 615.5,691.5 615.8,690.3ZM630.4,685.6 630.9,684.9 631.0,684.9 631.2,684.9 631.4,687.3 634.0,687.3 633.9,684.9 633.9,672.1 631.1,672.1 631.2,674.6 631.1,674.7 631.0,674.8 630.9,674.7 630.2,673.8 629.3,673.1 628.4,672.6 627.2,672.3 626.1,672.1 624.9,672.1 623.7,672.2 622.4,672.6 621.3,673.2 620.4,674.1 619.6,675.1 619.1,676.5 618.8,678.1 618.7,679.9 618.7,680.9 618.9,682.6 619.3,684.0 619.9,685.2 620.7,686.1 621.2,686.5 621.7,686.8 623.0,687.3 624.5,687.6 626.3,687.5 627.2,687.4 628.0,687.2 628.7,687.0 629.3,686.6 629.9,686.1ZM621.7,681.3 621.6,679.8 621.7,678.3 621.7,677.7 622.0,676.5 622.2,676.0 622.6,675.2 623.0,674.8 623.6,674.3 624.1,674.0 625.0,673.8 626.1,673.7 627.3,673.8 628.4,674.0 629.2,674.5 629.6,674.8 630.2,675.5 630.7,676.5 631.0,677.6 631.1,678.9 631.1,681.1 630.9,682.4 630.5,683.5 629.9,684.4 629.2,685.1 628.8,685.3 627.9,685.7 626.7,685.9 626.1,685.9 625.0,685.8 624.5,685.7 623.6,685.4 622.9,684.8 622.4,684.1 622.2,683.7 621.9,682.6Z"/>
<circle cx="471.10" cy="668.45" r="1.8" fill="#0a0a0a"/>
<circle cx="614.60" cy="668.45" r="1.8" fill="#0a0a0a"/>
<path id="txt_inv" fill="#0a0a0a" fill-rule="evenodd" d="M807.7,687.2 810.3,687.2 810.3,668.1 807.7,668.1ZM816.7,672.4 814.3,672.4 814.4,674.8 814.4,687.2 817.0,687.2 817.0,678.1 817.1,677.0 817.4,676.2 817.6,675.8 818.2,675.0 818.8,674.5 819.2,674.3 820.1,673.9 821.0,673.8 821.5,673.8 822.8,673.9 823.7,674.1 824.3,674.5 824.8,675.2 825.1,676.1 825.2,677.4 825.2,687.2 827.8,687.2 827.8,676.6 827.7,676.0 827.5,674.9 827.3,674.4 826.8,673.6 826.2,673.0 825.4,672.6 824.9,672.4 823.8,672.2 823.2,672.1 822.0,672.1 821.2,672.2 820.0,672.5 819.1,672.9 818.2,673.6 817.6,674.2 817.1,674.9 816.9,675.0 816.8,674.8ZM838.0,687.2 843.9,672.4 841.4,672.4 837.8,682.2 836.7,685.4 836.6,685.5 836.4,685.4 835.4,682.1 831.9,672.4 829.4,672.4 835.1,687.2ZM847.8,681.0 847.8,680.3 847.9,680.2 860.4,680.2 860.3,678.1 859.9,676.5 859.3,675.2 858.5,674.1 857.4,673.2 856.1,672.6 854.6,672.2 852.8,672.1 851.8,672.2 850.2,672.4 849.4,672.6 848.1,673.2 847.5,673.6 847.0,674.1 846.5,674.6 846.1,675.2 845.8,675.8 845.5,676.4 845.1,678.0 845.0,678.8 845.0,680.6 845.1,681.5 845.3,682.3 845.8,683.8 846.1,684.4 846.5,685.0 847.0,685.5 847.5,686.0 848.1,686.4 848.8,686.7 850.2,687.2 851.0,687.4 852.9,687.5 854.2,687.4 855.4,687.3 856.5,687.0 857.4,686.6 858.2,686.1 858.9,685.5 859.5,684.8 859.9,684.2 857.6,683.6 857.2,684.2 856.8,684.7 856.0,685.2 855.4,685.5 854.2,685.8 853.3,685.9 852.3,685.9 851.2,685.7 850.7,685.5 849.8,685.1 849.4,684.8 848.8,684.1 848.5,683.6 848.1,682.7 848.0,682.1ZM857.3,676.8 857.7,678.4 857.6,678.5 857.5,678.6 848.0,678.6 847.8,678.4 847.9,677.4 848.2,676.4 848.6,675.6 849.2,674.9 849.6,674.6 850.3,674.2 851.2,673.9 852.2,673.7 853.3,673.7 854.3,673.8 855.1,674.1 855.9,674.6 856.5,675.1 857.0,675.9ZM865.2,672.4 862.9,672.4 863.0,674.8 863.0,687.2 865.5,687.2 865.5,678.1 865.6,677.0 865.9,676.2 866.1,675.8 866.7,675.0 867.3,674.5 867.7,674.3 868.5,673.9 869.4,673.8 869.9,673.8 871.2,673.9 872.1,674.1 872.6,674.5 873.1,675.2 873.4,676.1 873.5,677.4 873.5,687.2 876.0,687.2 876.0,676.6 875.9,676.0 875.7,674.9 875.5,674.4 875.1,673.6 874.4,673.0 873.7,672.6 873.2,672.4 872.1,672.2 871.5,672.1 870.4,672.1 869.6,672.2 868.5,672.5 867.5,672.9 866.7,673.6 866.2,674.2 865.6,674.9 865.5,675.0 865.3,674.8ZM887.0,687.1 887.0,685.6 886.0,685.7 885.2,685.7 884.7,685.7 884.2,685.5 883.9,685.2 883.6,684.8 883.5,684.4 883.5,683.6 883.5,674.0 883.6,673.9 886.7,673.9 886.7,672.4 883.5,672.4 883.5,672.2 883.5,669.0 881.8,669.0 880.9,672.4 878.8,672.4 878.8,673.9 880.7,673.9 880.8,674.0 880.8,684.1 880.9,684.9 881.0,685.6 881.3,686.2 881.7,686.6 882.1,687.0 882.7,687.2 883.4,687.4 884.6,687.4 885.7,687.3ZM900.4,685.5 900.9,684.8 901.0,684.8 901.1,684.8 901.3,687.2 903.8,687.2 903.7,684.8 903.7,672.1 901.1,672.1 901.1,674.6 901.1,674.7 901.0,674.7 900.9,674.7 900.2,673.8 899.4,673.1 898.4,672.6 897.3,672.3 896.3,672.1 895.2,672.1 894.1,672.2 892.8,672.6 891.7,673.2 890.9,674.0 890.2,675.1 889.7,676.5 889.4,678.0 889.3,679.9 889.3,680.8 889.5,682.5 889.9,683.9 890.5,685.1 891.2,686.0 892.2,686.7 893.4,687.2 894.8,687.4 896.5,687.4 897.3,687.3 898.1,687.1 898.8,686.9 899.4,686.5 899.9,686.1ZM892.1,681.3 892.1,679.0 892.3,677.0 892.6,676.0 892.8,675.5 893.3,674.8 893.6,674.5 894.4,674.0 895.3,673.8 895.8,673.7 896.9,673.7 898.0,673.9 898.9,674.2 899.7,674.8 900.0,675.1 900.5,676.0 900.8,677.0 901.0,678.2 901.1,680.4 901.0,681.7 900.8,682.4 900.5,683.4 900.0,684.3 899.3,685.0 898.5,685.5 898.0,685.6 896.9,685.8 895.7,685.8 894.8,685.6 894.3,685.5 893.6,685.0 893.3,684.8 892.8,684.0 892.4,683.1 892.2,681.9ZM907.8,687.2 910.2,687.2 910.2,678.9 910.4,677.2 910.9,675.9 911.1,675.5 911.6,674.9 911.9,674.7 912.6,674.3 913.0,674.2 913.8,674.1 915.1,674.2 915.1,672.2 914.3,672.1 913.4,672.2 912.8,672.3 912.1,672.6 911.7,673.0 911.3,673.5 910.8,674.5 910.4,675.4 910.3,675.5 910.1,675.5 910.1,675.3 910.0,672.4 907.7,672.4 907.8,675.4ZM918.1,687.2 920.6,687.2 920.6,672.4 918.1,672.4ZM935.4,683.7 935.3,682.4 935.1,681.5 934.7,680.8 934.0,680.2 933.4,679.7 932.4,679.3 928.9,678.3 927.7,677.8 927.3,677.6 926.9,677.1 926.7,676.8 926.6,676.3 926.6,675.5 926.8,675.0 927.0,674.6 927.4,674.3 927.8,674.1 928.4,673.9 929.1,673.8 930.2,673.8 930.8,673.8 931.4,674.0 932.0,674.2 932.4,674.5 932.8,674.8 933.1,675.2 933.3,675.8 935.1,675.6 934.7,674.5 934.6,674.1 934.1,673.5 933.5,673.0 932.3,672.5 930.9,672.2 929.8,672.2 928.6,672.2 927.5,672.4 926.6,672.8 926.2,673.0 925.6,673.5 925.1,674.1 924.9,674.5 924.6,675.3 924.6,675.8 924.6,676.5 924.7,677.2 924.9,677.9 925.3,678.4 926.1,679.2 927.1,679.7 928.2,680.1 931.2,681.0 932.2,681.4 932.8,681.8 933.2,682.3 933.3,682.7 933.4,683.4 933.4,684.0 933.2,684.5 932.9,684.9 932.5,685.2 931.7,685.6 931.0,685.8 930.2,685.9 928.6,685.8 927.9,685.6 927.4,685.4 926.9,685.1 926.4,684.7 926.1,684.3 925.8,683.5 924.0,683.9 924.4,685.1 924.7,685.4 925.2,686.1 925.8,686.6 926.6,687.0 928.0,687.4 929.2,687.5 930.5,687.5 931.1,687.4 932.2,687.2 932.7,687.0 933.6,686.6 934.3,686.1 934.6,685.7 935.0,685.0 935.2,684.6Z"/>
<circle cx="919.40" cy="668.48" r="1.8" fill="#0a0a0a"/>
<path id="txt_inst" fill="#0a0a0a" fill-rule="evenodd" d="M406.9,963.0 409.8,963.0 409.8,943.8 406.9,943.8ZM416.4,948.2 414.2,948.2 414.3,950.6 414.3,963.0 416.7,963.0 416.7,953.9 416.8,952.8 417.1,952.0 417.3,951.6 417.5,951.2 418.1,950.6 418.8,950.1 419.2,949.9 420.0,949.6 421.0,949.6 422.2,949.7 423.0,949.9 423.5,950.3 424.0,951.0 424.3,951.9 424.4,953.2 424.4,963.0 426.8,963.0 426.8,952.4 426.7,951.8 426.5,950.7 426.3,950.2 425.9,949.4 425.3,948.8 424.5,948.4 424.1,948.2 423.1,948.0 422.5,947.9 421.4,947.9 420.6,948.0 419.6,948.3 418.6,948.7 417.8,949.4 417.3,950.0 416.8,950.7 416.7,950.8 416.5,950.6ZM441.7,959.5 441.6,958.2 441.4,957.3 441.0,956.6 440.3,956.0 439.7,955.5 438.7,955.1 435.2,954.1 434.0,953.6 433.6,953.4 433.2,952.9 433.0,952.6 432.9,952.1 432.9,951.3 433.1,950.8 433.3,950.4 433.7,950.1 434.1,949.9 434.7,949.7 435.4,949.6 436.5,949.6 437.1,949.6 437.7,949.8 438.3,950.0 438.7,950.3 439.1,950.6 439.4,951.0 439.6,951.6 441.4,951.4 441.0,950.3 440.9,949.9 440.4,949.3 439.8,948.8 438.6,948.3 437.2,948.0 436.1,948.0 434.9,948.0 433.8,948.2 432.9,948.6 432.5,948.8 431.9,949.3 431.4,949.9 431.2,950.3 430.9,951.1 430.9,951.6 430.9,952.3 431.0,953.0 431.2,953.7 431.6,954.2 432.4,955.0 433.4,955.5 434.5,955.9 437.5,956.8 438.5,957.2 439.1,957.6 439.5,958.1 439.6,958.5 439.7,959.2 439.7,959.8 439.5,960.3 439.2,960.7 438.8,961.0 438.0,961.4 437.3,961.6 436.5,961.7 434.9,961.6 434.2,961.4 433.7,961.2 433.2,960.9 432.7,960.5 432.4,960.1 432.1,959.3 430.3,959.7 430.7,960.9 431.0,961.2 431.5,961.9 432.1,962.4 432.9,962.8 434.3,963.2 435.5,963.3 436.8,963.3 437.4,963.2 438.5,963.0 439.0,962.8 439.9,962.4 440.6,961.9 440.9,961.5 441.3,960.8 441.5,960.4ZM451.9,962.9 451.9,961.4 450.9,961.5 450.2,961.5 449.7,961.5 449.2,961.3 448.9,961.0 448.7,960.6 448.5,960.2 448.5,959.4 448.5,949.8 448.6,949.7 451.6,949.7 451.6,948.2 448.5,948.2 448.5,948.0 448.5,944.8 446.9,944.8 446.0,948.1 445.9,948.2 444.0,948.2 444.0,949.7 445.8,949.7 446.0,949.8 446.0,959.9 446.0,960.7 446.2,961.4 446.4,962.0 446.8,962.4 447.2,962.8 447.8,963.0 448.4,963.2 449.6,963.2 450.6,963.1ZM465.4,961.3 465.9,960.6 466.0,960.6 466.2,960.6 466.4,963.0 469.0,963.0 468.9,960.6 468.9,947.9 466.2,947.9 466.2,950.4 466.2,950.5 466.1,950.5 465.9,950.5 465.2,949.6 464.4,948.9 463.4,948.4 462.2,948.1 461.1,947.9 460.0,947.9 458.8,948.0 457.5,948.4 456.4,949.0 455.4,949.8 454.7,950.9 454.2,952.3 453.9,953.8 453.8,955.7 453.8,956.6 454.0,958.3 454.4,959.7 455.0,960.9 455.8,961.8 456.8,962.5 458.1,963.0 459.5,963.2 461.3,963.2 462.2,963.1 463.0,962.9 463.7,962.7 464.4,962.3 464.9,961.9ZM456.7,957.1 456.7,955.6 456.7,954.1 456.8,953.4 457.1,952.3 457.3,951.8 457.7,950.9 458.0,950.6 458.7,950.1 459.1,949.8 460.1,949.6 461.2,949.5 462.4,949.6 463.4,949.8 464.3,950.3 464.7,950.6 465.3,951.3 465.7,952.3 466.0,953.4 466.2,954.7 466.1,956.9 465.9,958.2 465.5,959.2 465.0,960.1 464.3,960.8 463.9,961.0 462.9,961.4 461.7,961.6 461.1,961.6 460.0,961.6 459.5,961.4 458.7,961.1 458.0,960.5 457.5,959.8 457.3,959.4 456.9,958.3ZM475.6,948.2 473.4,948.2 473.5,950.6 473.5,963.0 475.9,963.0 475.9,953.9 476.0,952.8 476.3,952.0 476.5,951.6 476.7,951.2 477.3,950.6 478.0,950.1 478.4,949.9 479.2,949.6 480.2,949.6 481.4,949.7 482.2,949.9 482.7,950.3 483.2,951.0 483.5,951.9 483.6,953.2 483.6,963.0 486.0,963.0 486.0,952.4 485.9,951.8 485.7,950.7 485.5,950.2 485.1,949.4 484.5,948.8 483.7,948.4 483.3,948.2 482.3,948.0 481.7,947.9 480.6,947.9 479.8,948.0 478.8,948.3 477.8,948.7 477.0,949.4 476.5,950.0 476.0,950.7 475.9,950.8 475.7,950.6ZM499.5,959.5 499.4,958.2 499.2,957.3 498.8,956.6 498.3,956.0 497.6,955.5 496.8,955.1 493.5,954.1 492.4,953.6 492.0,953.4 491.7,952.9 491.5,952.6 491.4,952.1 491.4,951.3 491.5,950.8 491.8,950.4 492.1,950.1 492.5,949.9 493.0,949.7 493.7,949.6 494.7,949.6 495.3,949.6 495.9,949.8 496.3,950.0 496.8,950.3 497.1,950.6 497.4,951.0 497.6,951.6 499.2,951.4 498.9,950.3 498.7,949.9 498.3,949.3 497.7,948.8 497.1,948.4 495.8,948.1 494.9,948.0 493.2,948.0 492.3,948.2 491.4,948.6 490.7,949.0 490.5,949.3 490.0,949.9 489.7,950.7 489.6,951.1 489.5,952.0 489.6,952.8 489.8,953.5 490.1,954.0 490.8,954.8 491.6,955.4 492.9,955.9 495.9,956.9 496.8,957.3 497.2,957.8 497.5,958.3 497.7,958.9 497.7,959.5 497.6,960.0 497.4,960.5 496.8,961.1 496.1,961.4 495.5,961.6 494.7,961.7 493.2,961.6 492.6,961.4 492.1,961.2 491.6,960.9 491.2,960.5 490.9,960.1 490.7,959.4 489.0,959.7 489.4,960.9 489.6,961.2 490.1,961.9 490.7,962.4 491.4,962.8 492.7,963.2 493.8,963.3 494.9,963.3 495.5,963.2 496.5,963.0 497.0,962.8 497.8,962.4 498.5,961.9 498.7,961.5 499.2,960.8 499.3,960.4ZM504.1,963.0 506.6,963.0 506.6,948.2 504.1,948.2ZM524.5,962.9 524.5,961.4 523.5,961.5 522.7,961.5 522.2,961.5 521.6,961.3 521.3,961.0 521.1,960.6 520.9,960.2 520.9,959.4 520.9,949.8 521.0,949.7 524.2,949.7 524.2,948.2 520.9,948.2 520.9,948.0 520.9,944.8 519.1,944.8 518.2,948.2 516.1,948.2 516.1,949.7 518.0,949.7 518.2,949.8 518.2,959.9 518.2,960.7 518.4,961.4 518.7,962.0 519.0,962.4 519.5,962.8 520.1,963.0 520.8,963.2 522.0,963.2 523.1,963.1ZM529.3,948.2 526.9,948.2 526.9,958.8 527.0,959.4 527.2,960.5 527.4,961.0 527.8,961.8 528.4,962.4 529.1,962.8 529.6,963.0 530.6,963.2 531.2,963.3 532.2,963.3 533.0,963.2 534.1,962.9 535.0,962.5 535.8,961.8 536.3,961.2 536.8,960.5 537.0,960.4 537.1,960.6 537.2,963.0 539.4,963.0 539.3,960.6 539.3,948.2 537.0,948.2 536.9,957.3 536.8,958.4 536.5,959.2 536.3,959.6 536.1,960.0 535.5,960.6 534.8,961.1 534.5,961.3 533.6,961.6 532.7,961.6 531.8,961.6 531.3,961.5 530.5,961.2 530.2,960.9 529.9,960.6 529.6,960.0 529.4,959.5 529.3,958.0ZM546.4,948.2 544.0,948.2 544.1,950.6 544.1,963.0 546.6,963.0 546.6,953.9 546.8,952.8 547.1,952.0 547.3,951.6 547.8,950.8 548.5,950.3 548.9,950.1 549.7,949.7 550.6,949.6 551.1,949.6 552.4,949.7 553.3,949.9 553.8,950.3 554.3,951.0 554.6,951.9 554.8,953.2 554.8,963.0 557.3,963.0 557.3,952.4 557.2,951.8 557.0,950.7 556.8,950.2 556.3,949.4 555.7,948.8 554.9,948.4 554.5,948.2 553.4,948.0 552.8,947.9 551.6,947.9 550.8,948.0 549.6,948.3 548.7,948.7 547.8,949.4 547.3,950.0 546.8,950.7 546.6,950.8 546.5,950.6ZM567.3,968.9 569.5,968.8 570.9,968.5 572.0,968.1 572.9,967.4 573.6,966.5 574.1,965.5 574.4,964.2 574.5,962.7 574.5,950.6 574.6,948.2 572.3,948.2 572.2,950.7 572.0,950.8 571.9,950.7 571.5,950.1 570.8,949.3 570.0,948.7 569.4,948.4 568.3,948.1 567.6,948.0 566.4,948.0 565.1,948.2 564.0,948.7 563.1,949.4 562.4,950.3 561.9,951.5 561.5,952.9 561.3,954.7 561.3,956.6 561.5,958.3 561.6,959.0 562.1,960.3 562.7,961.3 563.4,962.1 564.4,962.7 565.5,963.0 566.9,963.1 567.7,963.1 568.5,962.9 569.5,962.6 570.2,962.2 570.7,961.8 571.2,961.2 571.9,960.2 572.0,960.2 572.2,960.3 572.2,962.8 572.1,963.8 571.9,964.7 571.6,965.5 571.1,966.2 570.5,966.7 569.8,967.0 569.0,967.3 568.0,967.3 567.0,967.2 566.1,967.0 565.3,966.6 564.8,966.0 564.5,965.6 564.4,965.2 562.0,965.5 562.2,966.1 562.7,966.8 563.2,967.5 563.9,968.0 564.7,968.4 565.7,968.7ZM572.2,955.1 572.1,956.9 572.0,957.7 571.8,958.4 571.5,959.1 571.0,959.9 570.5,960.4 570.1,960.8 569.3,961.3 568.7,961.5 568.1,961.5 567.2,961.5 566.3,961.4 565.5,961.0 565.2,960.8 564.6,960.1 564.2,959.3 563.9,957.7 563.8,956.4 563.8,954.1 564.1,952.3 564.5,951.4 565.0,950.7 565.6,950.1 566.4,949.7 567.3,949.6 567.8,949.5 568.4,949.6 569.0,949.7 569.6,949.9 570.1,950.3 570.6,950.7 571.0,951.2 571.3,951.7 571.6,952.4 572.0,953.5ZM585.3,968.9 587.5,968.8 588.9,968.5 590.0,968.1 590.9,967.4 591.6,966.5 592.1,965.5 592.4,964.2 592.5,962.7 592.5,950.6 592.6,948.2 590.3,948.2 590.2,950.7 590.0,950.8 589.9,950.7 589.5,950.1 588.8,949.3 588.0,948.7 587.4,948.4 586.3,948.1 585.6,948.0 584.4,948.0 583.1,948.2 582.0,948.7 581.1,949.4 580.4,950.3 579.9,951.5 579.5,952.9 579.3,954.7 579.3,956.6 579.5,958.3 579.6,959.0 580.1,960.3 580.7,961.3 581.4,962.1 582.4,962.7 583.5,963.0 584.9,963.1 585.7,963.1 586.5,962.9 587.5,962.6 588.2,962.2 588.7,961.8 589.2,961.2 589.9,960.2 590.0,960.2 590.2,960.3 590.2,962.8 590.1,963.8 589.9,964.7 589.6,965.5 589.1,966.2 588.5,966.7 587.8,967.0 587.0,967.3 586.0,967.3 585.0,967.2 584.1,967.0 583.3,966.6 582.8,966.0 582.5,965.6 582.4,965.2 580.0,965.5 580.2,966.1 580.7,966.8 581.2,967.5 581.9,968.0 582.7,968.4 583.7,968.7ZM590.2,955.1 590.1,956.9 590.0,957.7 589.8,958.4 589.5,959.1 589.0,959.9 588.5,960.4 588.1,960.8 587.3,961.3 586.7,961.5 586.1,961.5 585.2,961.5 584.3,961.4 583.5,961.0 583.2,960.8 582.6,960.1 582.2,959.3 581.9,957.7 581.8,956.4 581.8,954.1 582.1,952.3 582.5,951.4 583.0,950.7 583.6,950.1 584.4,949.7 585.3,949.6 585.8,949.5 586.4,949.6 587.0,949.7 587.6,949.9 588.1,950.3 588.6,950.7 589.0,951.2 589.3,951.7 589.6,952.4 590.0,953.5ZM607.4,961.3 607.9,960.6 608.0,960.6 608.2,960.6 608.4,963.0 610.9,963.0 610.8,960.6 610.8,947.9 608.2,947.9 608.2,950.4 608.1,950.5 608.0,950.5 607.9,950.5 607.2,949.6 606.4,948.9 605.4,948.4 604.3,948.1 603.3,947.9 602.1,947.9 601.0,948.0 599.7,948.4 598.6,949.0 597.7,949.8 597.0,950.9 596.5,952.3 596.2,953.8 596.1,955.7 596.1,956.6 596.3,958.3 596.7,959.7 597.3,960.9 598.1,961.8 599.0,962.5 600.2,963.0 601.7,963.2 603.4,963.2 604.3,963.1 605.1,962.9 605.8,962.7 606.4,962.3 606.9,961.9ZM599.0,957.1 598.9,954.8 599.2,952.8 599.5,951.8 599.7,951.3 600.2,950.6 600.5,950.3 601.3,949.8 602.2,949.6 602.7,949.5 603.9,949.5 605.0,949.7 605.9,950.0 606.7,950.6 607.0,950.9 607.5,951.8 607.9,952.8 608.1,954.0 608.1,956.2 608.0,957.5 607.9,958.2 607.5,959.2 607.0,960.1 606.3,960.8 605.4,961.3 604.9,961.4 603.9,961.6 602.7,961.6 601.7,961.4 601.3,961.3 600.5,960.8 600.2,960.6 599.7,959.8 599.3,958.9 599.0,957.7ZM615.6,963.0 618.4,963.0 618.4,942.6 615.6,942.6Z"/>
<circle cx="505.40" cy="944.28" r="1.8" fill="#0a0a0a"/>
<!--/TEXT-->
<!-- title -->

<!-- browser window -->
<g fill="none" stroke="#111" stroke-width="2.7">
  <rect x="332.2" y="150.2" width="365.8" height="241.5" rx="10"/>
  <rect x="339.7" y="185.2" width="344.7" height="197" rx="4"/>
  <circle cx="348.6" cy="167.7" r="9.4"/>
  <circle cx="373" cy="167.7" r="9.4"/>
  <rect x="389.2" y="158.5" width="294.7" height="18.7" rx="9.35"/>
</g>
<!-- UI letters -->
<path fill="#000" d="M473.3 249.8 H480.8 V297 C480.8 309.5 488.3 316.3 499.4 316.3 C510.5 316.3 518 309.5 518 297 V249.8 H525.5 V297 C525.5 313.5 515 322.8 499.4 322.8 C483.8 322.8 473.3 313.5 473.3 297 Z"/>
<rect x="540.9" y="249.8" width="7.8" height="72.2" fill="#000"/>

<!-- connectors top -->
<g fill="none" stroke="#262626" stroke-width="2.3" stroke-linecap="round" stroke-linejoin="round">
  <path d="M146.3 488.3 V439 H883.3 V488.1"/>
  <path d="M515 439 V488.2"/>
  <path d="M515.1 398 V421"/>
</g>
<path d="M510.9 419.7 L519.3 419.7 L515.1 433 Z" fill="#111"/>

<!-- money stack -->
<g id="bills" fill="#fff" stroke="#2a2a2a" stroke-width="2.5">
<g>
<rect x="81.4" y="503.6" width="154.4" height="79.5" rx="1"/>
<path d="M95.8 509.4 H221.6 A8.8 8.8 0 0 0 230.4 518.2 V568.8 A8.8 8.8 0 0 0 221.6 577.6 H95.8 A8.8 8.8 0 0 0 87.0 568.8 V518.2 A8.8 8.8 0 0 0 95.8 509.4 Z" fill="none"/>
<g transform="translate(-54.1 -50.1)" fill="none" stroke="#0a0a0a"><path stroke-width="4.4" d="M224.6 580.5 C223.8 574.5 218.8 571.1 212.7 571.1 C205 571.1 200.3 575.5 200.3 581 C200.3 587.5 206 589.5 213 591.5 C220.5 593.5 225.7 596.5 225.7 603.5 C225.7 609.5 220 613.6 212.7 613.6 C205 613.6 200 609 199.6 603.5"/><path stroke-width="3.3" d="M212.7 563.8 V620.9"/></g>
</g>
<g>
<rect x="99.6" y="518.9" width="154.4" height="79.5" rx="1"/>
<path d="M114.0 524.7 H239.8 A8.8 8.8 0 0 0 248.6 533.5 V584.1 A8.8 8.8 0 0 0 239.8 592.9 H114.0 A8.8 8.8 0 0 0 105.2 584.1 V533.5 A8.8 8.8 0 0 0 114.0 524.7 Z" fill="none"/>
<g transform="translate(-35.9 -34.8)" fill="none" stroke="#0a0a0a"><path stroke-width="4.4" d="M224.6 580.5 C223.8 574.5 218.8 571.1 212.7 571.1 C205 571.1 200.3 575.5 200.3 581 C200.3 587.5 206 589.5 213 591.5 C220.5 593.5 225.7 596.5 225.7 603.5 C225.7 609.5 220 613.6 212.7 613.6 C205 613.6 200 609 199.6 603.5"/><path stroke-width="3.3" d="M212.7 563.8 V620.9"/></g>
</g>
<g>
<rect x="117.6" y="536.1" width="154.4" height="79.5" rx="1"/>
<path d="M132.0 541.9 H257.8 A8.8 8.8 0 0 0 266.6 550.7 V601.3 A8.8 8.8 0 0 0 257.8 610.1 H132.0 A8.8 8.8 0 0 0 123.2 601.3 V550.7 A8.8 8.8 0 0 0 132.0 541.9 Z" fill="none"/>
<g transform="translate(-17.9 -17.6)" fill="none" stroke="#0a0a0a"><path stroke-width="4.4" d="M224.6 580.5 C223.8 574.5 218.8 571.1 212.7 571.1 C205 571.1 200.3 575.5 200.3 581 C200.3 587.5 206 589.5 213 591.5 C220.5 593.5 225.7 596.5 225.7 603.5 C225.7 609.5 220 613.6 212.7 613.6 C205 613.6 200 609 199.6 603.5"/><path stroke-width="3.3" d="M212.7 563.8 V620.9"/></g>
</g>
<g>
<rect x="135.6" y="553.7" width="154.4" height="79.5" rx="1"/>
<path d="M150.0 559.5 H275.8 A8.8 8.8 0 0 0 284.6 568.3 V618.9 A8.8 8.8 0 0 0 275.8 627.7 H150.0 A8.8 8.8 0 0 0 141.2 618.9 V568.3 A8.8 8.8 0 0 0 150.0 559.5 Z" fill="none"/>
<g transform="translate(0.1 0.0)" fill="none" stroke="#0a0a0a"><path stroke-width="4.4" d="M224.6 580.5 C223.8 574.5 218.8 571.1 212.7 571.1 C205 571.1 200.3 575.5 200.3 581 C200.3 587.5 206 589.5 213 591.5 C220.5 593.5 225.7 596.5 225.7 603.5 C225.7 609.5 220 613.6 212.7 613.6 C205 613.6 200 609 199.6 603.5"/><path stroke-width="3.3" d="M212.7 563.8 V620.9"/></g>
</g>
</g><!--endbills-->

<!-- cart -->
<g fill="none" stroke="#1a1a1a" stroke-width="2.8" stroke-linejoin="round" stroke-linecap="round">
  <path d="M404 528.3 H605 L576.7 611 H457.7 Z"/>
  <path d="M562.7 528.2 L576.2 515 H589.7"/>
  <path d="M597.3 528.2 L610.2 515 H623.4"/>
  <path d="M543 611.3 L528.8 625.3"/>
  <path d="M575.2 611.6 L560 625"/>
  <path d="M456.3 634 V625.5 H560.5 V634"/>
  <path d="M529 625.5 V634"/>
  <circle cx="456.4" cy="642.2" r="8"/>
  <circle cx="529" cy="642.4" r="8"/>
  <circle cx="560.6" cy="642.4" r="8"/>
</g>

<!-- inventory docs -->
<g fill="#fff" stroke="#111" stroke-width="2.9">
  <rect x="781" y="497.7" width="102" height="125.3"/>
  <rect x="840.8" y="515" width="103.2" height="126"/>
</g>

<!-- labels -->

<!-- connectors bottom -->
<g fill="none" stroke="#1e1e1e" stroke-width="2.4" stroke-linecap="round" stroke-linejoin="round">
  <path d="M146.5 733 V781.5 H883.5 V733"/>
  <path d="M514.6 733 V781.5"/>
  <path d="M514.7 802.5 V826"/>
</g>
<path d="M510.2 824.8 L518.8 824.8 L514.6 838.3 Z" fill="#111"/>

<!-- server -->
<g fill="none" stroke="#1c1c1c" stroke-width="2.5" stroke-linejoin="round">
  <rect x="353.5" y="869.7" width="322.7" height="54.3" rx="1.5"/>
  <rect x="373.6" y="888.3" width="18.4" height="18.8" rx="1.6"/>
  <rect x="400.9" y="888.3" width="19" height="18.8" rx="1.6"/>
  <rect x="428.4" y="888.3" width="18.7" height="18.8" rx="1.6"/>
  <rect x="586.1" y="888.1" width="73.8" height="19.4" rx="2"/>
</g>
</svg>
</body></html>
